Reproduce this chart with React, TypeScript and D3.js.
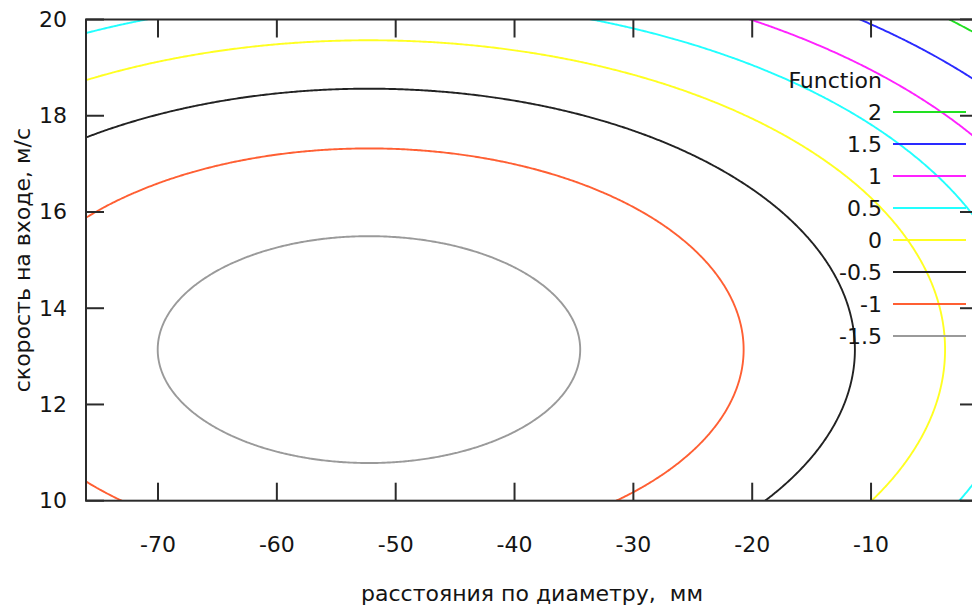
import React, { useMemo } from "react";
import * as d3 from "d3";

const WIDTH = 972;
const HEIGHT = 608;

// axes
const xDomain = [-76.06, -1.0];
const yDomain = [10, 20];
const xTicks = [-70, -60, -50, -40, -30, -20, -10];
const yTicks = [10, 12, 14, 16, 18, 20];
const xLabel = "расстояния по диаметру,  мм";
const yLabel = "скорость на входе, м/с";
const legendTitle = "Function";

// contour levels
const levels = [2, 1.5, 1, 0.5, 0, -0.5, -1, -1.5];
const levelLabels = ["2", "1.5", "1", "0.5", "0", "-0.5", "-1", "-1.5"];
const levelColors = ["#22e022", "#2a2aff", "#ff22ff", "#22ffff", "#ffff22", "#222222", "#ff5f33", "#9a9a9a"];

// quadratic response surface
const surfaceCenter = [-52.25, 13.14];
const surfaceCurvature = [7.374e-4, 0.04194];
const surfaceMinimum = -1.733;

const M = { left: 86, right: 978, top: 19.5, bottom: 500.7 };

export default function App() {
  const x = d3.scaleLinear().domain(xDomain).range([M.left, M.right]);
  const y = d3.scaleLinear().domain(yDomain).range([M.bottom, M.top]);

  const paths = useMemo(() => {
    const gx0 = -82, gx1 = 4, stepX = 0.15;
    const gy0 = 8.5, gy1 = 21.5, stepY = 0.025;
    const nx = Math.round((gx1 - gx0) / stepX) + 1;
    const ny = Math.round((gy1 - gy0) / stepY) + 1;
    const values = new Float64Array(nx * ny);
    for (let j = 0; j < ny; j++) {
      const yv = gy0 + j * stepY;
      for (let i = 0; i < nx; i++) {
        const xv = gx0 + i * stepX;
        values[j * nx + i] =
          surfaceMinimum +
          surfaceCurvature[0] * (xv - surfaceCenter[0]) ** 2 +
          surfaceCurvature[1] * (yv - surfaceCenter[1]) ** 2;
      }
    }
    const gen = d3.contours().size([nx, ny]).thresholds(levels);
    const projection = d3.geoTransform({
      point(px: number, py: number) {
        (this as any).stream.point(x(gx0 + (px - 0.5) * stepX), y(gy0 + (py - 0.5) * stepY));
      },
    });
    const path = d3.geoPath(projection);
    return levels.map((lv) => path(gen.contour(Array.from(values), lv) as any) || "");
  }, []);

  const legendX = 882;
  const sampleX0 = 893;
  const sampleX1 = 966;
  const rowY = (i: number) => 112 + i * 32;

  return (
    <svg
      width={WIDTH}
      height={HEIGHT}
      style={{ position: "absolute", left: 0, top: 0, background: "#fff" }}
      fontFamily="'DejaVu Sans', Verdana, sans-serif"
    >
      <defs>
        <clipPath id="plotClip">
          <rect x={M.left} y={M.top} width={M.right - M.left} height={M.bottom - M.top} />
        </clipPath>
      </defs>
      <rect x={0} y={0} width={WIDTH} height={HEIGHT} fill="#fff" />
      <g clipPath="url(#plotClip)">
        {paths.map((d, i) => (
          <path key={i} d={d} fill="none" stroke={levelColors[i]} strokeWidth={1.9} />
        ))}
      </g>

      {/* frame and ticks */}
      <g stroke="#2b2b2b" strokeWidth={2} fill="none">
        <rect x={M.left} y={M.top} width={M.right - M.left} height={M.bottom - M.top} />
        {xTicks.map((t) => (
          <g key={"xt" + t}>
            <line x1={x(t)} x2={x(t)} y1={M.bottom} y2={M.bottom - 18} />
            <line x1={x(t)} x2={x(t)} y1={M.top} y2={M.top + 18} />
          </g>
        ))}
        {yTicks.map((t) => (
          <g key={"yt" + t}>
            <line x1={M.left} x2={M.left + 18} y1={y(t)} y2={y(t)} />
            <line x1={M.right} x2={M.right - 18} y1={y(t)} y2={y(t)} />
          </g>
        ))}
      </g>

      {/* tick labels */}
      <g fontSize={22} fill="#141414">
        {xTicks.map((t) => (
          <text key={"xl" + t} x={x(t)} y={544} textAnchor="middle" dominantBaseline="central">
            {String(t)}
          </text>
        ))}
        {yTicks.map((t) => (
          <text key={"yl" + t} x={67} y={y(t)} textAnchor="end" dominantBaseline="central">
            {String(t)}
          </text>
        ))}
      </g>

      {/* axis labels */}
      <text x={(M.left + M.right) / 2} y={593} fontSize={22} textAnchor="middle" dominantBaseline="central" fill="#141414" style={{ whiteSpace: "pre" }}>
        {xLabel}
      </text>
      <text
        transform={`translate(22, ${(M.top + M.bottom) / 2}) rotate(-90)`}
        fontSize={22}
        textAnchor="middle"
        dominantBaseline="central"
        fill="#141414"
      >
        {yLabel}
      </text>

      {/* legend */}
      <text x={legendX} y={80} fontSize={22} textAnchor="end" dominantBaseline="central" fill="#141414">
        {legendTitle}
      </text>
      {levels.map((lv, i) => (
        <g key={"lg" + lv}>
          <text x={legendX} y={rowY(i)} fontSize={22} textAnchor="end" dominantBaseline="central" fill="#141414">
            {levelLabels[i]}
          </text>
          <line x1={sampleX0} x2={sampleX1} y1={rowY(i)} y2={rowY(i)} stroke={levelColors[i]} strokeWidth={1.9} />
        </g>
      ))}
    </svg>
  );
}
